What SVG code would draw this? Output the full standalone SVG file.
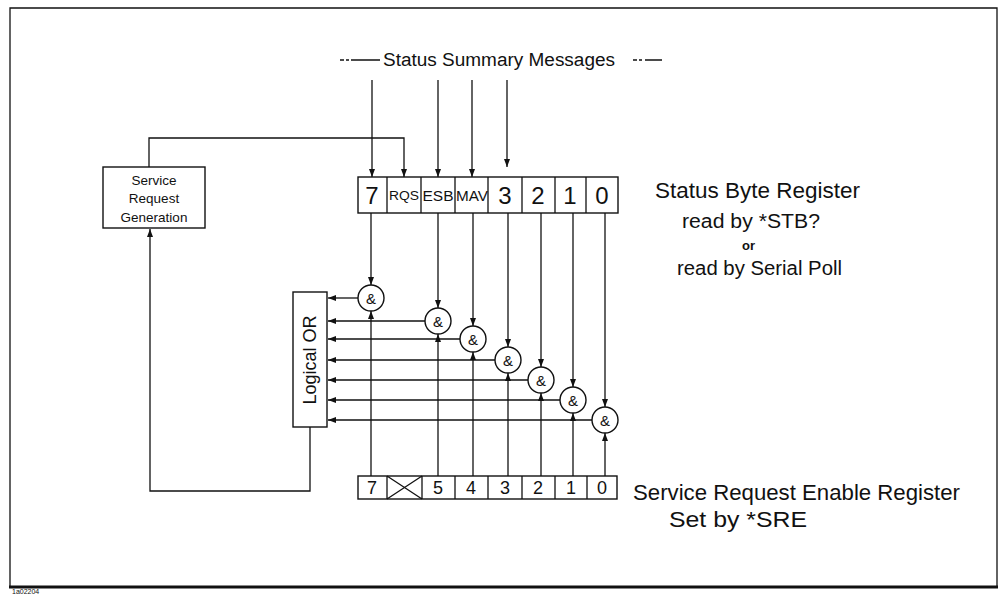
<svg xmlns="http://www.w3.org/2000/svg" width="1003" height="595" viewBox="0 0 1003 595">
<defs>
<marker id="ah" viewBox="0 0 8 6" refX="8" refY="3" markerWidth="8" markerHeight="6" markerUnits="userSpaceOnUse" orient="auto">
<path d="M0,0 L8,3 L0,6 z" fill="#111"/>
</marker>
</defs>
<style>
.ln{stroke:#111;stroke-width:1.3;fill:none}
.ar{stroke:#111;stroke-width:1.3;fill:none;marker-end:url(#ah)}
.bx{stroke:#111;stroke-width:1.4;fill:#fff}
.g{stroke:#111;stroke-width:1.4;fill:#fff}
text{font-family:"Liberation Sans",Arial,sans-serif;fill:#111}
.lbl{font-size:22px}
.sm{font-size:20px}
.dg{font-size:24px;text-anchor:middle}
.dgs{font-size:18px;text-anchor:middle}
.nm{font-size:13.5px;text-anchor:middle}
.amp{font-size:15px;text-anchor:middle;dominant-baseline:central}
</style>
<rect width="1003" height="595" fill="#fff"/>
<g id="frame">
<path d="M10,587 L10,8 L997,8 L997,587" class="ln" stroke-width="2"/>
<line x1="9" y1="587" x2="998" y2="587" stroke="#111" stroke-width="3"/>
<text x="12" y="594" font-size="7">1a02204</text>
</g>
<g id="title">
<text x="383" y="66" font-size="18" textLength="232" lengthAdjust="spacingAndGlyphs">Status Summary Messages</text>
<path d="M340,60 h4 M346,60 h3 M351,60 h29 M633,60 h4 M639,60 h3 M645,60 h17" class="ln"/>
</g>
<g id="connectors">
<line x1="372" y1="80" x2="372" y2="177" class="ar"/>
<line x1="438" y1="80" x2="438" y2="177" class="ar"/>
<line x1="472" y1="80" x2="472" y2="177" class="ar"/>
<line x1="507" y1="80" x2="507" y2="167" class="ar"/>
<path d="M149,167 V138 H404 V177" class="ar"/>
<line x1="371" y1="213" x2="371" y2="285" class="ar"/>
<line x1="438" y1="213" x2="438" y2="308" class="ar"/>
<line x1="473" y1="213" x2="473" y2="326" class="ar"/>
<line x1="508" y1="213" x2="508" y2="347" class="ar"/>
<line x1="541" y1="213" x2="541" y2="367" class="ar"/>
<line x1="573" y1="213" x2="573" y2="387" class="ar"/>
<line x1="605" y1="213" x2="605" y2="407" class="ar"/>
<line x1="371" y1="476" x2="371" y2="311" class="ar"/>
<line x1="438" y1="476" x2="438" y2="334" class="ar"/>
<line x1="473" y1="476" x2="473" y2="352" class="ar"/>
<line x1="508" y1="476" x2="508" y2="373" class="ar"/>
<line x1="541" y1="476" x2="541" y2="393" class="ar"/>
<line x1="573" y1="476" x2="573" y2="413" class="ar"/>
<line x1="605" y1="476" x2="605" y2="433" class="ar"/>
<line x1="358" y1="298" x2="328" y2="298" class="ar"/>
<line x1="425" y1="321" x2="328" y2="321" class="ar"/>
<line x1="460" y1="339" x2="328" y2="339" class="ar"/>
<line x1="495" y1="360" x2="328" y2="360" class="ar"/>
<line x1="528" y1="380" x2="328" y2="380" class="ar"/>
<line x1="560" y1="400" x2="328" y2="400" class="ar"/>
<line x1="592" y1="420" x2="328" y2="420" class="ar"/>
<path d="M310,427 V491 H150 V229" class="ar"/>
</g>
<g id="service-request-generation">
<rect x="103" y="167" width="102" height="61" class="bx"/>
<text x="154" y="185" class="nm">Service</text>
<text x="154" y="203" class="nm">Request</text>
<text x="154" y="222" class="nm">Generation</text>
</g>
<g id="status-byte-register">
<rect x="358" y="177" width="260" height="36" class="bx"/>
<path d="M387,177 V213 M421,177 V213 M455,177 V213 M488,177 V213 M522,177 V213 M555,177 V213 M586,177 V213" class="ln"/>
<text x="372" y="204" class="dg">7</text>
<text x="404" y="200" font-size="12" text-anchor="middle" textLength="30" lengthAdjust="spacingAndGlyphs">RQS</text>
<text x="438" y="201" font-size="14" text-anchor="middle" textLength="31" lengthAdjust="spacingAndGlyphs">ESB</text>
<text x="472" y="201" font-size="14" text-anchor="middle" textLength="32" lengthAdjust="spacingAndGlyphs">MAV</text>
<text x="505" y="204" class="dg">3</text>
<text x="538" y="204" class="dg">2</text>
<text x="570" y="204" class="dg">1</text>
<text x="602" y="204" class="dg">0</text>
<text x="655" y="198" class="lbl" textLength="205" lengthAdjust="spacingAndGlyphs">Status Byte Register</text>
<text x="682" y="228" class="sm" textLength="138" lengthAdjust="spacingAndGlyphs">read by *STB?</text>
<text x="742" y="250" font-size="13" font-weight="bold">or</text>
<text x="677" y="275" class="sm" textLength="165" lengthAdjust="spacingAndGlyphs">read by Serial Poll</text>
</g>
<g id="and-gates">
<circle cx="371" cy="298" r="13" class="g"/><text x="371" y="298" class="amp">&amp;</text>
<circle cx="438" cy="321" r="13" class="g"/><text x="438" y="321" class="amp">&amp;</text>
<circle cx="473" cy="339" r="13" class="g"/><text x="473" y="339" class="amp">&amp;</text>
<circle cx="508" cy="360" r="13" class="g"/><text x="508" y="360" class="amp">&amp;</text>
<circle cx="541" cy="380" r="13" class="g"/><text x="541" y="380" class="amp">&amp;</text>
<circle cx="573" cy="400" r="13" class="g"/><text x="573" y="400" class="amp">&amp;</text>
<circle cx="605" cy="420" r="13" class="g"/><text x="605" y="420" class="amp">&amp;</text>
</g>
<g id="logical-or">
<rect x="293" y="292" width="34" height="135" class="bx"/>
<text x="0" y="0" font-size="18" text-anchor="middle" dominant-baseline="central" transform="translate(310,360) rotate(-90)">Logical OR</text>
</g>
<g id="service-request-enable-register">
<rect x="358" y="476" width="259" height="23" class="bx"/>
<path d="M387,476 V499 M422,476 V499 M455,476 V499 M488,476 V499 M522,476 V499 M555,476 V499 M587,476 V499 M387,476 L422,499 M422,476 L387,499" class="ln"/>
<text x="372" y="494" class="dgs">7</text>
<text x="438" y="494" class="dgs">5</text>
<text x="471" y="494" class="dgs">4</text>
<text x="505" y="494" class="dgs">3</text>
<text x="538" y="494" class="dgs">2</text>
<text x="571" y="494" class="dgs">1</text>
<text x="602" y="494" class="dgs">0</text>
<text x="633" y="500" class="lbl" textLength="327" lengthAdjust="spacingAndGlyphs">Service Request Enable Register</text>
<text x="669" y="527" class="lbl" textLength="138" lengthAdjust="spacingAndGlyphs">Set by *SRE</text>
</g>
</svg>
